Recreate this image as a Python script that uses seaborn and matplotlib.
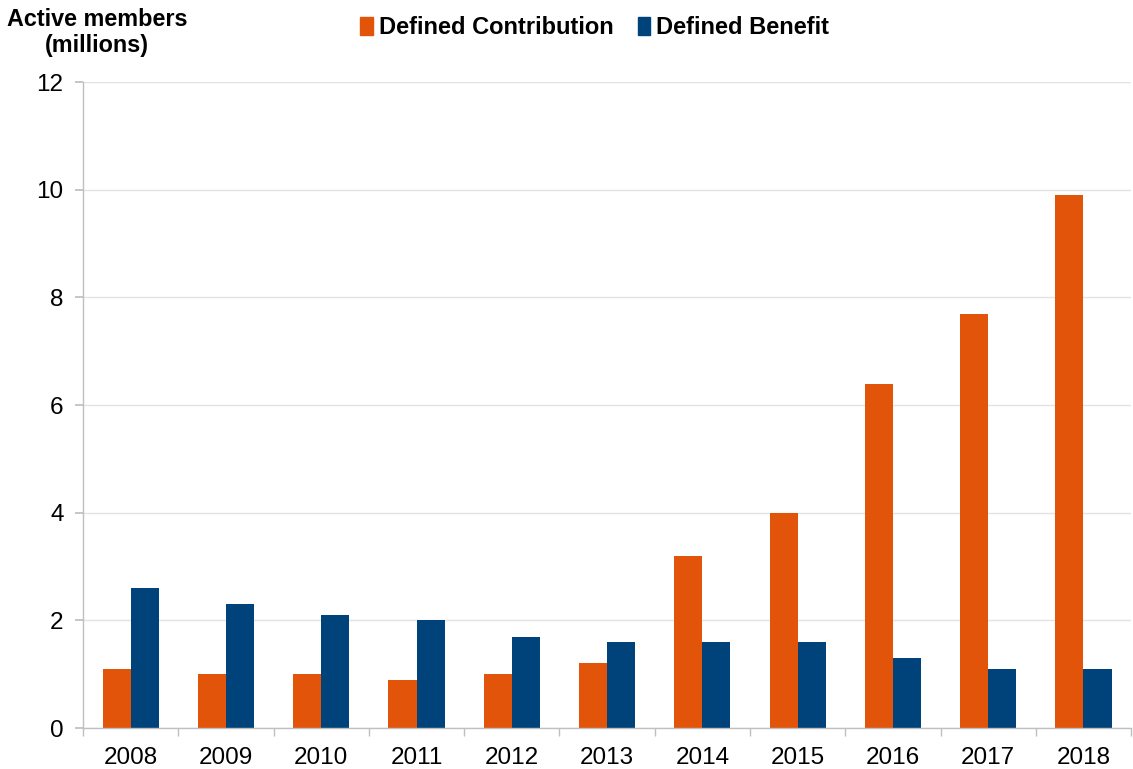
import pandas as pd
import numpy as np
import matplotlib.pyplot as plt
import seaborn as sns

sns.set_theme(style="white")
plt.rcParams['font.family'] = ['Liberation Sans', 'DejaVu Sans']
plt.rcParams['text.color'] = 'black'
plt.rcParams['xtick.labelcolor'] = 'black'
plt.rcParams['ytick.labelcolor'] = 'black'

years = ['2008', '2009', '2010', '2011', '2012', '2013', '2014', '2015', '2016', '2017', '2018']
dc = [1.1, 1.0, 1.0, 0.9, 1.0, 1.2, 3.2, 4.0, 6.4, 7.7, 9.9]
db = [2.6, 2.3, 2.1, 2.0, 1.7, 1.6, 1.6, 1.6, 1.3, 1.1, 1.1]
series = ['Defined Contribution', 'Defined Benefit']
colors = ['#E1540A', '#00437A']

df = pd.DataFrame({'Year': years * 2,
                   'Members': dc + db,
                   'Scheme': [series[0]] * len(years) + [series[1]] * len(years)})

fig = plt.figure(figsize=(11.33, 7.69), dpi=100)
ax = fig.add_axes([0.0733, 0.0533, 0.925, 0.84])

sns.barplot(data=df, x='Year', y='Members', hue='Scheme', palette=colors,
            width=0.59, gap=0, ax=ax, legend=False, saturation=1, linewidth=0)

ax.set_ylim(0, 12)
ax.set_xlim(-0.5, len(years) - 0.5)
ax.set_yticks(np.arange(0, 13, 2))
ax.yaxis.grid(True, color='#E3E3E3', linewidth=1)
ax.set_axisbelow(True)
ax.set_xlabel('')
ax.set_ylabel('')

for s in ['top', 'right']:
    ax.spines[s].set_visible(False)
for s in ['left', 'bottom']:
    ax.spines[s].set_color('#BFBFBF')
    ax.spines[s].set_linewidth(1)

ax.tick_params(axis='y', which='major', length=6, color='#BFBFBF', labelsize=17.5, pad=8, left=True)
ax.tick_params(axis='x', which='major', length=0, labelsize=17.5, pad=14)
ax.set_xticks(np.arange(-0.5, len(years), 1), minor=True)
ax.tick_params(axis='x', which='minor', length=6, color='#BFBFBF', bottom=True)

fig.text(0.0855, 0.958, 'Active members\n(millions)', ha='center', va='center',
         fontsize=16.8, fontweight='bold', linespacing=1.15, color='black')

handles = [plt.Rectangle((0, 0), 1, 1, color=c) for c in colors]
fig.legend(handles, series, loc='center', bbox_to_anchor=(0.525, 0.964), ncol=2,
           frameon=False, prop={'size': 17, 'weight': 'bold'}, labelcolor='black',
           handlelength=0.55, handleheight=0.8, handletextpad=0.25, columnspacing=1.0)

fig.savefig('out.png', dpi=100)
